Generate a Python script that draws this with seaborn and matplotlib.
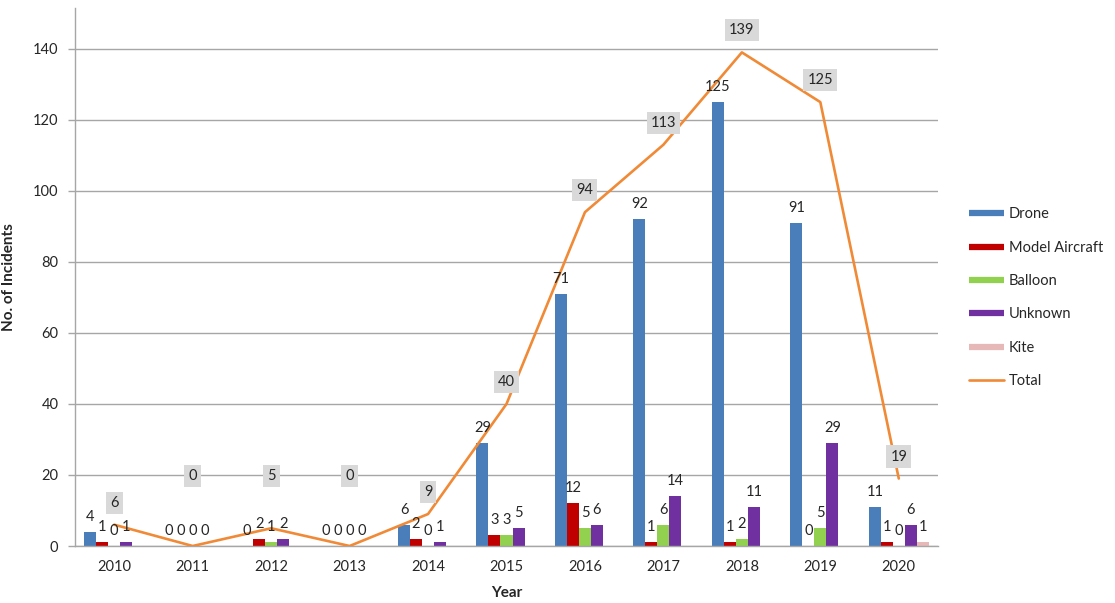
import numpy as np
import pandas as pd
import matplotlib
matplotlib.use("Agg")
import matplotlib.pyplot as plt
from matplotlib.lines import Line2D
import seaborn as sns

# ---- data ----
years = ["2010", "2011", "2012", "2013", "2014", "2015", "2016", "2017", "2018", "2019", "2020"]
drone = [4, 0, 0, 0, 6, 29, 71, 92, 125, 91, 11]
model_aircraft = [1, 0, 2, 0, 2, 3, 12, 1, 1, 0, 1]
balloon = [0, 0, 1, 0, 0, 3, 5, 6, 2, 5, 0]
unknown = [1, 0, 2, 0, 1, 5, 6, 14, 11, 29, 6]
kite = [0, 0, 0, 0, 0, 0, 0, 0, 0, 0, 1]
total = [6, 0, 5, 0, 9, 40, 94, 113, 139, 125, 19]
series_names = ["Drone", "Model Aircraft", "Balloon", "Unknown", "Kite"]

# ---- style ----
colors = ["#4A7EBB", "#C00000", "#92D050", "#7030A0", "#E6B9B8"]
line_color = "#F08A36"
grid_color = "#A6A6A6"
text_color = "#262626"
FS = 10.5
# data-y positions for total labels that were moved (style, not data)
total_label_y_override = {"2011": 19.8, "2012": 19.8, "2013": 19.8}

sns.set_theme(style="white")
plt.rcParams["font.family"] = ["Lato", "DejaVu Sans"]

df = pd.DataFrame({
    "Year": np.repeat(years, len(series_names)),
    "Type": series_names * len(years),
    "Count": np.ravel(np.column_stack([drone, model_aircraft, balloon, unknown, kite])),
})

fig = plt.figure(figsize=(11.15, 6.03), dpi=100)
ax = fig.add_axes([75 / 1115, 1 - 546 / 603, (938 - 75) / 1115, (546 - 8) / 603])

sns.barplot(data=df, x="Year", y="Count", hue="Type", hue_order=series_names,
            order=years, palette=colors, width=0.765, linewidth=0,
            saturation=1, errorbar=None, legend=False, ax=ax, zorder=2)

# bar value labels
for name, cont in zip(series_names, ax.containers):
    for bar, val in zip(cont, df[df["Type"] == name]["Count"]):
        if name == "Kite" and val == 0:
            continue
        ax.annotate(f"{val}", (bar.get_x() + bar.get_width() / 2, bar.get_height()),
                    xytext=(0, 15), textcoords="offset pixels", ha="center",
                    va="center", fontsize=FS, color=text_color, zorder=5)

# total line
xpos = np.arange(len(years))
sns.lineplot(x=xpos, y=total, color=line_color, linewidth=1.9, ax=ax, zorder=3)

for i, (yr, t) in enumerate(zip(years, total)):
    if yr in total_label_y_override:
        xy, off = (i, total_label_y_override[yr]), (0, 0)
    else:
        xy, off = (i, t), (0, 22)
    ax.annotate(f"{t}", xy, xytext=off, textcoords="offset pixels", ha="center",
                va="center", fontsize=FS, color=text_color, zorder=6,
                bbox=dict(boxstyle="square,pad=0.28", fc="#D9D9D9", ec="none"))

ax.set_ylim(0, 151.5)
ax.set_xlim(-0.5, len(years) - 0.5)
ax.set_yticks(np.arange(0, 141, 20))
ax.yaxis.grid(True, color=grid_color, linewidth=1.0)
ax.set_axisbelow(True)
for s in ["top", "right"]:
    ax.spines[s].set_visible(False)
for s in ["left", "bottom"]:
    ax.spines[s].set_color(grid_color)
    ax.spines[s].set_linewidth(1.0)

ax.set_xticks(xpos)
ax.set_xticklabels(years)
ax.set_xticks(np.arange(-0.5, len(years), 1.0), minor=True)
ax.tick_params(axis="x", which="major", length=0, pad=10, labelsize=FS, colors=text_color)
ax.tick_params(axis="x", which="minor", length=5, width=1, color=grid_color, direction="out")
ax.tick_params(axis="y", which="major", length=5, width=1, color=grid_color, direction="out",
               pad=7, labelsize=FS, labelcolor=text_color, left=True)

ax.set_xlabel("Year", fontsize=11, fontweight="bold", color=text_color, labelpad=9)
ax.set_ylabel("No. of Incidents", fontsize=11, fontweight="bold", color=text_color, labelpad=12)

handles = [Line2D([], [], color=c, lw=4.5, solid_capstyle="butt") for c in colors]
handles.append(Line2D([], [], color=line_color, lw=1.9))
fig.legend(handles, series_names + ["Total"], loc="upper left",
           bbox_to_anchor=(962 / 1115, 1 - 200 / 603), frameon=False, fontsize=FS,
           handlelength=2.4, handletextpad=0.3, labelspacing=1.33, borderpad=0,
           labelcolor=text_color)

fig.savefig("out.png", dpi=100)
